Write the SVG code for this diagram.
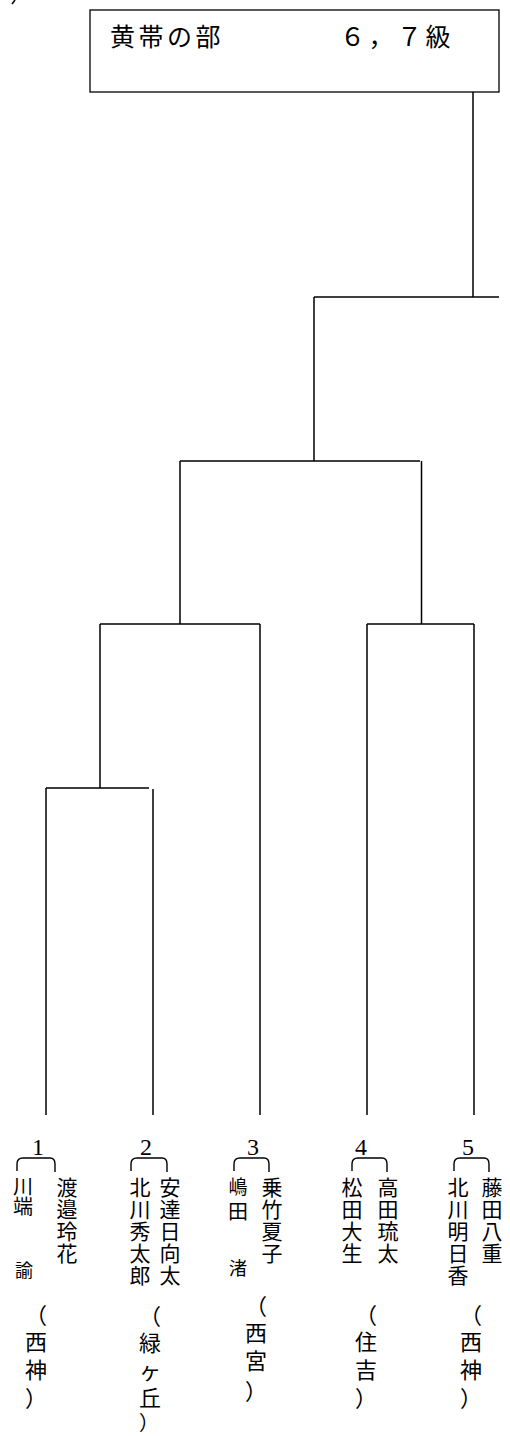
<svg xmlns="http://www.w3.org/2000/svg" width="510" height="1436" viewBox="0 0 510 1436">
<style>
.ln{stroke:#000;stroke-width:1.5;fill:none}
.br{stroke:#000;stroke-width:1.4;fill:none}
.v{font-family:"Noto Sans CJK JP","Noto Sans CJK SC",sans-serif;fill:#000;writing-mode:vertical-rl;text-orientation:upright}
.p{font-family:"Noto Sans CJK JP","Noto Sans CJK SC",sans-serif;fill:#000;font-size:22px;text-anchor:middle}
.t{font-family:"Noto Sans CJK JP","Noto Sans CJK SC",sans-serif;fill:#000;font-size:25px;letter-spacing:3.5px}
.n{font-family:"Liberation Serif",serif;fill:#000;font-size:24px;text-anchor:middle}
.nm{font-size:21px;letter-spacing:1px}
.af{font-size:22px;letter-spacing:5.3px;font-feature-settings:"vert" 0}
</style>
<rect width="510" height="1436" fill="#fff"/>
<path class="ln" d="M15,0 L12,4" stroke-width="1"/>
<g id="title">
<rect x="90" y="10" width="409" height="82" fill="#fff" stroke="#000" stroke-width="1.3"/>
<text class="t" x="110" y="46">黄帯の部</text>
<text class="t" x="340" y="46">６，７級</text>
</g>
<g id="connectors">
<path class="ln" d="M473,92 V297 M314,297 H499 M314,297 V461 M180,461 H420 M180,461 V624 M421.5,461 V624 M100,624 H260 M100,624 V788 M260,624 V1115 M367,624 H474 M367,624 V1115 M474,624 V1115 M46,788 H149 M46,788 V1115 M153,789 V1115"/>
</g>
<g id="entry1">
<text class="n" x="38" y="1155">1</text>
<path class="br" d="M17,1171 V1164 Q17,1158 23,1158 H50 Q55,1158 55,1164 V1172"/>
<text class="v" style="font-size:20px;letter-spacing:0.5px" x="23" y="1176">川端</text>
<text class="v" style="font-size:18px" x="24" y="1261">諭</text>
<text class="v nm" x="67" y="1176.5">渡邉玲花</text>
<text class="p" x="36" y="1323">（</text>
<text class="v af" x="36" y="1331">西神</text>
<text class="p" x="36" y="1406">）</text>
</g>
<g id="entry2">
<text class="n" x="146" y="1155">2</text>
<path class="br" d="M131,1171 V1164 Q131,1158 137,1158 H162 Q167,1158 167,1164 V1172"/>
<text class="v nm" x="140" y="1176.5">北川秀太郎</text>
<text class="v nm" x="170" y="1176.5">安達日向太</text>
<text class="p" x="150" y="1324">（</text>
<text class="v af" x="150" y="1332">緑ヶ丘</text>
<text class="p" style="font-size:20px" x="149" y="1430">）</text>
</g>
<g id="entry3">
<text class="n" x="253" y="1155">3</text>
<path class="br" d="M234,1171 V1164 Q234,1158 240,1158 H264 Q269,1158 269,1164 V1172"/>
<text class="v" style="font-size:19px" x="238" y="1177.5">嶋</text>
<text class="v" style="font-size:20px" x="238" y="1201">田</text>
<text class="v" style="font-size:18px" x="238" y="1259">渚</text>
<text class="v nm" x="272" y="1176.5">乗竹夏子</text>
<text class="p" x="256" y="1314">（</text>
<text class="v af" style="letter-spacing:6px" x="256" y="1322">西宮</text>
<text class="p" x="256" y="1399">）</text>
</g>
<g id="entry4">
<text class="n" x="361" y="1155">4</text>
<path class="br" d="M352,1171 V1164 Q352,1158 358,1158 H382 Q387,1158 387,1164 V1172"/>
<text class="v nm" x="352" y="1176.5">松田大生</text>
<text class="v nm" x="388" y="1176.5">高田琉太</text>
<text class="p" x="366" y="1323">（</text>
<text class="v af" x="366" y="1331">住吉</text>
<text class="p" x="366" y="1406">）</text>
</g>
<g id="entry5">
<text class="n" x="468" y="1155">5</text>
<path class="br" d="M454,1171 V1164 Q454,1158 460,1158 H484 Q489,1158 489,1164 V1172"/>
<text class="v nm" x="458" y="1176.5">北川明日香</text>
<text class="v nm" x="492" y="1176.5">藤田八重</text>
<text class="p" x="471" y="1323">（</text>
<text class="v af" x="471" y="1331">西神</text>
<text class="p" x="471" y="1406">）</text>
</g>
</svg>
